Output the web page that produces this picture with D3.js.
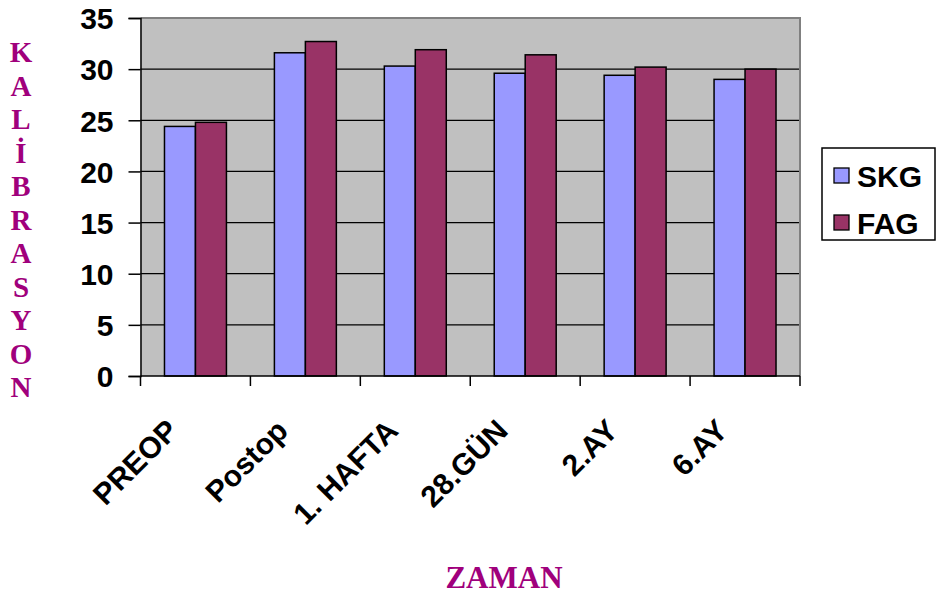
<!DOCTYPE html>
<html><head><meta charset="utf-8">
<script src="https://cdn.jsdelivr.net/npm/d3@7"></script>
<style>body{margin:0;background:#fff}svg{display:block}</style>
</head><body>
<svg id="c" width="937" height="595"></svg>
<script>
const categories = ["PREOP","Postop","1. HAFTA","28.GÜN","2.AY","6.AY"];
const seriesNames = ["SKG","FAG"];
const skg = [24.4, 31.6, 30.3, 29.6, 29.4, 29.0];
const fag = [24.8, 32.7, 31.9, 31.4, 30.2, 30.0];
const yTicks = [0,5,10,15,20,25,30,35];
const colors = ["#9999ff","#993366"];
const yTitle = "KALİBRASYON";
const xTitle = "ZAMAN";

const svg = d3.select("#c");
const L = 140.5, R = 800, T = 18, B = 376;
const x0 = d3.scaleBand().domain(categories).range([L, R]).padding(0);
const x1 = d3.scaleBand().domain(seriesNames).range([0, x0.bandwidth()]).paddingInner(0).paddingOuter(0.774);
const y = d3.scaleLinear().domain([0,35]).range([B, T]);
const sans = "Liberation Sans, Arial, sans-serif";
const serif = "Liberation Serif, Times New Roman, serif";
const titleColor = "#a0007c";

svg.append("rect").attr("x",L).attr("y",T).attr("width",R-L).attr("height",B-T).attr("fill","#c0c0c0");
svg.append("g").selectAll("line").data(yTicks.filter(t=>t>0 && t<35)).join("line")
  .attr("x1",L).attr("x2",R).attr("y1",d=>y(d)).attr("y2",d=>y(d))
  .attr("stroke","#000").attr("stroke-width",1.3);
svg.append("path").attr("d",`M${L},${T}H${R}V${B}`).attr("fill","none").attr("stroke","#808080").attr("stroke-width",2);

const data = categories.map((c,i)=>({c, vals:[skg[i],fag[i]]}));
const g = svg.append("g").selectAll("g").data(data).join("g").attr("transform",d=>`translate(${x0(d.c)},0)`);
g.selectAll("rect").data(d=>d.vals.map((v,j)=>({s:seriesNames[j],v,j}))).join("rect")
  .attr("x",d=>x1(d.s)).attr("width",x1.bandwidth())
  .attr("y",d=>y(d.v)).attr("height",d=>B-y(d.v))
  .attr("fill",d=>colors[d.j]).attr("stroke","#000").attr("stroke-width",1.5);

const ya = svg.append("g").attr("transform",`translate(${L},0)`)
  .call(d3.axisLeft(y).tickValues(yTicks).tickSize(12).tickPadding(15).tickFormat(d3.format("d")));
ya.select(".domain").attr("stroke","#000").attr("stroke-width",1.5);
ya.selectAll(".tick line").attr("stroke","#000").attr("stroke-width",1.5);
ya.selectAll(".tick text").attr("font-family",sans).attr("font-weight","bold").attr("font-size",30).attr("fill","#000").attr("dy","0.36em");

const xa = svg.append("g").attr("transform",`translate(0,${B})`);
xa.append("line").attr("x1",L).attr("x2",R).attr("stroke","#000").attr("stroke-width",1.5);
const bounds = categories.map(c=>x0(c)).concat([R]);
xa.selectAll("line.t").data(bounds).join("line").attr("class","t")
  .attr("x1",d=>d).attr("x2",d=>d).attr("y1",0).attr("y2",10).attr("stroke","#000").attr("stroke-width",1.5);
svg.append("g").selectAll("text").data(categories).join("text")
  .attr("transform",d=>`translate(${x0(d)+x0.bandwidth()/2-23},425) rotate(-45)`)
  .attr("text-anchor","end").attr("dy","0.35em")
  .attr("font-family",sans).attr("font-weight","bold").attr("font-size",30)
  .text(d=>d);

svg.append("g").selectAll("text").data(Array.from(yTitle)).join("text")
  .attr("x",21).attr("y",(d,i)=>52+i*33.5).attr("dy","0.35em").attr("text-anchor","middle")
  .attr("font-family",serif).attr("font-weight","bold").attr("font-size",29)
  .attr("fill",titleColor).text(d=>d);

svg.append("text").attr("x",504).attr("y",588).attr("text-anchor","middle")
  .attr("font-family",serif).attr("font-weight","bold").attr("font-size",31)
  .attr("fill",titleColor).text(xTitle);

const lg = svg.append("g");
lg.append("rect").attr("x",822).attr("y",148).attr("width",113).attr("height",92).attr("fill","#fff").attr("stroke","#000").attr("stroke-width",1.5);
const li = lg.selectAll("g").data(seriesNames).join("g").attr("transform",(d,i)=>`translate(0,${i*47})`);
li.append("rect").attr("x",834).attr("y",168).attr("width",15).attr("height",15)
  .attr("fill",(d,i)=>colors[i]).attr("stroke","#000").attr("stroke-width",1.3);
li.append("text").attr("x",857).attr("y",187).attr("font-family",sans)
  .attr("font-weight","bold").attr("font-size",30).text(d=>d);
</script>
</body></html>
